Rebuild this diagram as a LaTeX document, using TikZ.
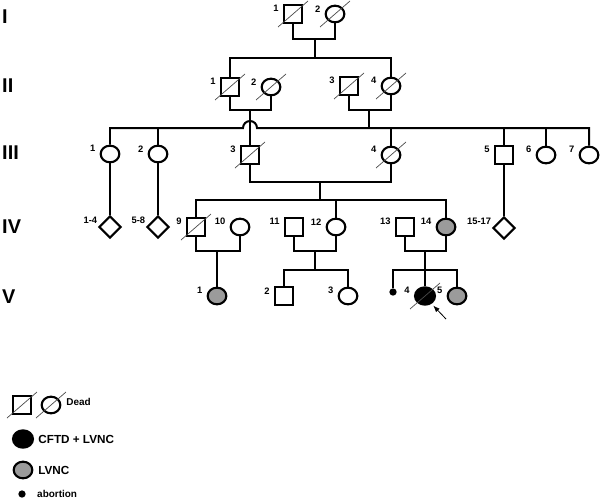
\documentclass[tikz,border=0pt]{standalone}
\usepackage{fontspec}
\setmainfont{Liberation Sans}
\usetikzlibrary{shapes.geometric, arrows.meta, positioning}
\definecolor{lvncgray}{RGB}{155,155,155}

\begin{document}
\begin{tikzpicture}[
    x=0.03cm, y=-0.03cm,
    label distance=3pt,
    male/.style={rectangle, draw=black, line width=1.8pt, minimum size=0.54cm, inner sep=0pt, fill=white},
    female/.style={ellipse, draw=black, line width=1.8pt, minimum width=0.56cm, minimum height=0.5cm, inner sep=0pt, fill=white},
    multi/.style={diamond, draw=black, line width=1.8pt, minimum size=0.66cm, inner sep=0pt, fill=white},
    affected/.style={fill=black, minimum width=0.6cm, minimum height=0.52cm},
    lvnc/.style={fill=lvncgray},
    abort/.style={circle, fill=black, minimum size=0.22cm, inner sep=0pt},
    slash/.style={draw=black!70, line width=0.6pt},
    dead/.style={append after command={(\tikzlastnode.center) +(-15,13) edge[slash] +(15,-13)}},
    lab/.style={font=\bfseries\fontsize{8}{8}\selectfont, inner sep=0.5pt, yshift=4.5pt},
    mlab/.style={lab, xshift=3pt, yshift=1pt},
    gen/.style={font=\bfseries\fontsize{17}{17}\selectfont, anchor=west, inner sep=0pt},
    legtext/.style={font=\bfseries\fontsize{10}{10}\selectfont, inner sep=0pt},
    legsmall/.style={font=\bfseries\fontsize{8.5}{9}\selectfont, inner sep=0pt},
    line/.style={line width=1.7pt},
    arrow/.style={-{Latex[length=2mm]}, line width=0.7pt, shorten >=2pt}
]
\useasboundingbox (0,0) rectangle (600,499);

% generations
\node[gen] (genI) at (2,17) {I};
\node[gen] (genII) at (2,86) {II};
\node[gen] (genIII) at (2,153) {III};
\node[gen] (genIV) at (2,227) {IV};
\node[gen] (genV) at (2,297) {V};

% I
\node[male, dead, label={[lab]left:1}] (I1) at (293,14) {};
\node[female, dead, label={[lab]left:2}] (I2) at (335,14) {};

% II
\node[male, dead, label={[lab]left:1}] (II1) at (230,87) {};
\node[female, dead, label={[lab]left:2}] (II2) at (271,87) {};
\node[male, dead, label={[lab]left:3}] (II3) at (349,86) {};
\node[female, dead, label={[lab]left:4}] (II4) at (391,86) {};

% III
\node[female, label={[lab]left:1}] (III1) at (110,154) {};
\node[female, label={[lab]left:2}] (III2) at (158,154) {};
\node[male, dead, label={[lab]left:3}] (III3) at (250,155) {};
\node[female, dead, label={[lab]left:4}] (III4) at (391,155) {};
\node[male, label={[lab]left:5}] (III5) at (504,155) {};
\node[female, label={[lab]left:6}] (III6) at (546,155) {};
\node[female, label={[lab]left:7}] (III7) at (589,155) {};

% IV
\node[multi, label={[mlab]left:1-4}] (IV1to4) at (110,227) {};
\node[multi, label={[mlab]left:5-8}] (IV5to8) at (158,227) {};
\node[male, dead, label={[lab]left:9}] (IV9) at (196,227) {};
\node[female, label={[lab]left:10}] (IV10) at (240,227) {};
\node[male, label={[lab]left:11}] (IV11) at (294,227) {};
\node[female, label={[lab]left:12}] (IV12) at (336,227) {};
\node[male, label={[lab]left:13}] (IV13) at (405,227) {};
\node[female, lvnc, label={[lab]left:14}] (IV14) at (446,227) {};
\node[multi, label={[mlab]left:15-17}] (IV15to17) at (504,228) {};

% V
\node[female, lvnc, label={[lab]left:1}] (V1) at (217,296) {};
\node[male, label={[lab]left:2}] (V2) at (284,296) {};
\node[female, label={[lab]left:3}] (V3) at (348,296) {};
\node[abort] (Vab) at (393,292) {};
\node[female, affected, dead, label={[lab]left:4}] (V4) at (425,296) {};
\node[female, lvnc, label={[lab]left:5}] (V5) at (457,296) {};

% I -> II
\coordinate (cI) at (315,39);
\coordinate (sII) at (315,58);
\draw[line] (I1.south) |- (cI) -| (I2.south);
\draw[line] (cI) -- (sII);
\draw[line] (II1.north) |- (sII) -| (II4.north);

% II -> III
\coordinate (cII12) at (250,110);
\coordinate (cII34) at (369,110);
\coordinate (sIII) at (369,128);
\coordinate (hopL) at (243,128);
\draw[line] (II1.south) |- (cII12) -| (II2.south);
\draw[line] (II3.south) |- (cII34) -| (II4.south);
\draw[line] (cII12) -- (III3.north);
\draw[line] (III1.north) |- (hopL) arc[start angle=180, end angle=360, radius=7] -| (III7.north);
\draw[line] (cII34) -- (sIII);
\draw[line] (III2.north) -- (III2 |- sIII);
\draw[line] (III4.north) -- (III4 |- sIII);
\draw[line] (III5.north) -- (III5 |- sIII);
\draw[line] (III6.north) -- (III6 |- sIII);

% III -> IV
\coordinate (cIII) at (320,182);
\coordinate (sIV) at (320,200);
\draw[line] (III1.south) -- (IV1to4.north);
\draw[line] (III2.south) -- (IV5to8.north);
\draw[line] (III5.south) -- (IV15to17.north);
\draw[line] (III3.south) |- (cIII) -| (III4.south);
\draw[line] (cIII) -- (sIV);
\draw[line] (IV9.north) |- (sIV) -| (IV14.north);
\draw[line] (IV12.north) -- (IV12 |- sIV);

% IV -> V
\coordinate (cIV1) at (217,251);
\coordinate (cIV2) at (315,251);
\coordinate (cIV3) at (425,251);
\coordinate (sV2) at (315,270);
\coordinate (sV3) at (425,270);
\draw[line] (IV9.south) |- (cIV1) -| (IV10.south);
\draw[line] (cIV1) -- (V1.north);
\draw[line] (IV11.south) |- (cIV2) -| (IV12.south);
\draw[line] (cIV2) -- (sV2);
\draw[line] (V2.north) |- (sV2) -| (V3.north);
\draw[line] (IV13.south) |- (cIV3) -| (IV14.south);
\draw[line] (cIV3) -- (V4.north);
\draw[line] (Vab.north) |- (sV3) -| (V5.north);

% proband
\coordinate (proband) at (446,319);
\draw[arrow] (proband) -- (V4.-50);

% legend
\node[male, dead] (legM) at (22,405) {};
\node[female, dead] (legF) at (51,405) {};
\node[legsmall, right=4pt of legF, yshift=3pt] (legDeadTxt) {Dead};
\node[female, affected] (legA) at (23,439) {};
\node[legtext, right=3.5pt of legA] (legATxt) {CFTD + LVNC};
\node[female, lvnc] (legL) at (23,470) {};
\node[legtext, right=4pt of legL] (legLTxt) {LVNC};
\node[abort] (legAb) at (22,494) {};
\node[legsmall, anchor=west] (legAbTxt) at (37,494) {abortion};

\end{tikzpicture}
\end{document}
